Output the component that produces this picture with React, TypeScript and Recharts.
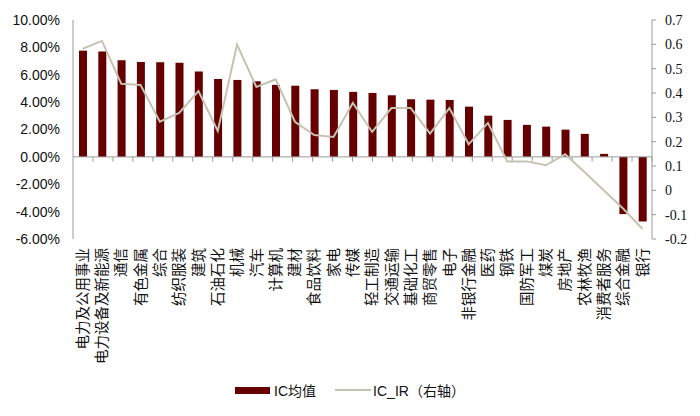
import { ComposedChart, Bar, Line, XAxis, YAxis, ReferenceLine, Legend } from 'recharts';

const categories = [
  '电力及公用事业', '电力设备及新能源', '通信', '有色金属', '综合', '纺织服装', '建筑', '石油石化',
  '机械', '汽车', '计算机', '建材', '食品饮料', '家电', '传媒', '轻工制造', '交通运输', '基础化工',
  '商贸零售', '电子', '非银行金融', '医药', '钢铁', '国防军工', '煤炭', '房地产', '农林牧渔',
  '消费者服务', '综合金融', '银行',
];

// IC均值, in percent
const icMean = [
  7.76, 7.69, 7.06, 6.93, 6.91, 6.88, 6.23, 5.69, 5.62, 5.52, 5.26, 5.2, 4.94, 4.89, 4.75,
  4.67, 4.5, 4.21, 4.18, 4.16, 3.67, 3.01, 2.7, 2.34, 2.21, 1.99, 1.68, 0.22, -4.18, -4.72,
];

// IC_IR (right axis)
const icIR = [
  0.582, 0.614, 0.438, 0.433, 0.282, 0.318, 0.408, 0.244, 0.599, 0.425, 0.456, 0.282, 0.227, 0.219, 0.359,
  0.24, 0.338, 0.338, 0.233, 0.338, 0.189, 0.277, 0.119, 0.119, 0.103, 0.148, 0.075, 0.0, -0.075, -0.158,
];

const leftTicks = [-6, -4, -2, 0, 2, 4, 6, 8, 10];
const rightTicks = [-0.2, -0.1, 0, 0.1, 0.2, 0.3, 0.4, 0.5, 0.6, 0.7];

const BAR_COLOR = '#660000';
const LINE_COLOR = '#C6C2B2';
const AXIS_COLOR = '#9a9a9a';

const data = categories.map((name, i) => ({ name, ic: icMean[i], ir: icIR[i] }));
// category boundaries for the small tick marks on the zero line
const boundaries = categories.slice(1).map((_, i) => i + 1);

const CategoryTick = ({ x, y, payload }: any) => (
  <text
    x={x}
    y={y + 1}
    dy="0.36em"
    transform={`rotate(-90, ${x}, ${y + 1})`}
    textAnchor="end"
    fontSize={14.5}
    fontFamily='"Noto Sans CJK SC", sans-serif'
    fill="#111"
  >
    {payload.value}
  </text>
);

const LegendContent = () => (
  <div
    style={{
      display: 'flex',
      justifyContent: 'center',
      alignItems: 'center',
      height: 20,
      fontSize: 14,
      fontFamily: '"Liberation Sans", "Noto Sans CJK SC", sans-serif',
      color: '#111',
    }}
  >
    <span style={{ display: 'inline-block', width: 35, height: 7, background: BAR_COLOR, marginRight: 4 }} />
    <span>IC均值</span>
    <span style={{ display: 'inline-block', width: 36, height: 2, background: LINE_COLOR, marginLeft: 19, marginRight: 2 }} />
    <span>IC_IR（右轴）</span>
  </div>
);

export default function App() {
  return (
    <div style={{ position: 'absolute', left: 0, top: 0, width: 700, height: 416, background: '#fff' }}>
      <ComposedChart width={700} height={416} data={data} margin={{ top: 20, right: 0, bottom: 16, left: 0 }}>
        <XAxis
          xAxisId="cat"
          dataKey="name"
          interval={0}
          height={141}
          axisLine={false}
          tickLine={false}
          tick={<CategoryTick />}
        />
        <XAxis xAxisId="grid" type="number" domain={[0, categories.length]} hide />
        <YAxis
          yAxisId="left"
          width={73}
          domain={[-6, 10]}
          ticks={leftTicks}
          interval={0}
          tickFormatter={(v: number) => `${v.toFixed(2)}%`}
          axisLine={{ stroke: AXIS_COLOR }}
          tickLine={false}
          tickMargin={7}
          tick={{ fontSize: 14, fontFamily: '"Liberation Sans", Arial, sans-serif', fill: '#111' }}
        />
        <YAxis
          yAxisId="right"
          orientation="right"
          width={48}
          domain={[-0.2, 0.7]}
          ticks={rightTicks}
          interval={0}
          tickFormatter={(v: number) => (Math.abs(v) < 1e-9 ? '0' : v.toFixed(1))}
          axisLine={{ stroke: AXIS_COLOR }}
          tickLine={{ stroke: AXIS_COLOR }}
          tickSize={4}
          tickMargin={9}
          tick={{ fontSize: 14, fontFamily: '"Liberation Serif", "Times New Roman", serif', fill: '#111' }}
        />
        <ReferenceLine xAxisId="cat" yAxisId="left" y={0} stroke={AXIS_COLOR} />
        {boundaries.map((b) => (
          <ReferenceLine
            key={b}
            xAxisId="grid"
            yAxisId="left"
            segment={[{ x: b, y: 0 }, { x: b, y: -0.35 }]}
            stroke={AXIS_COLOR}
          />
        ))}
        <Bar
          xAxisId="cat"
          yAxisId="left"
          dataKey="ic"
          name="IC均值"
          fill={BAR_COLOR}
          barSize={8}
          isAnimationActive={false}
        />
        <Line
          xAxisId="cat"
          yAxisId="right"
          type="linear"
          dataKey="ir"
          name="IC_IR（右轴）"
          stroke={LINE_COLOR}
          strokeWidth={2}
          dot={false}
          isAnimationActive={false}
        />
        <Legend verticalAlign="bottom" height={20} content={<LegendContent />} />
      </ComposedChart>
    </div>
  );
}
